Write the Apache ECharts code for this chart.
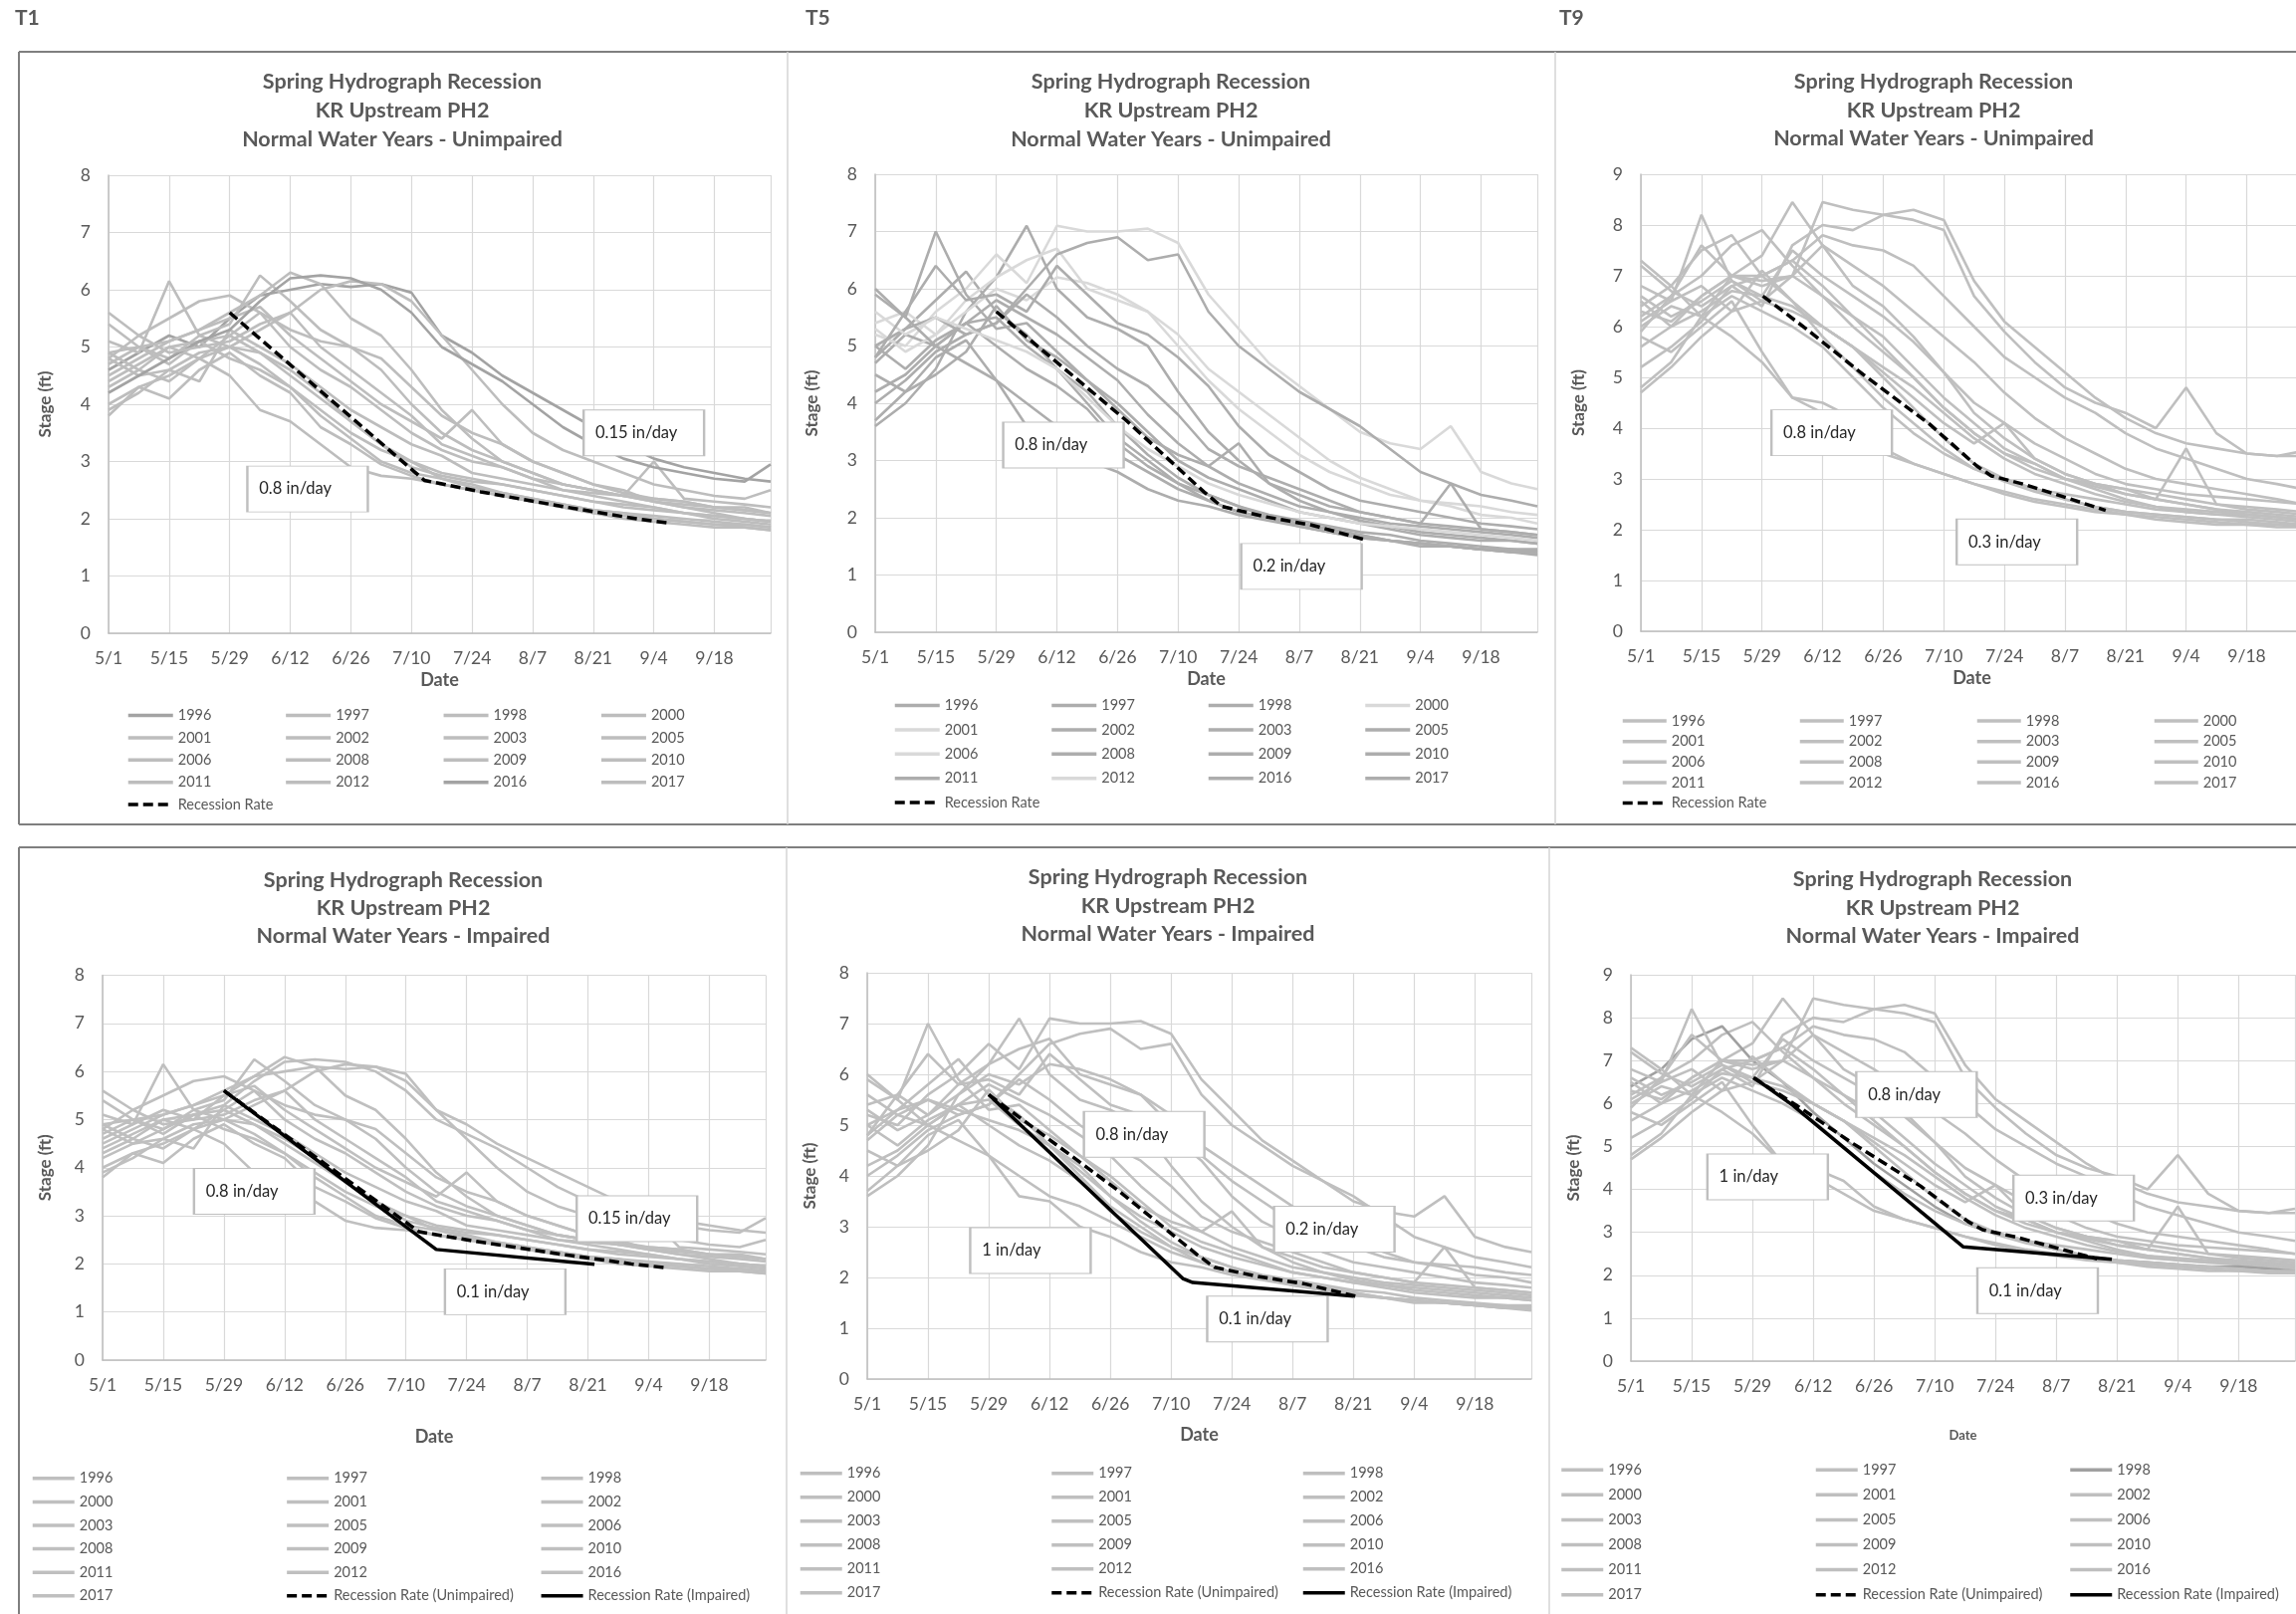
<!DOCTYPE html>
<html><head><meta charset="utf-8">
<script src="https://cdn.jsdelivr.net/npm/echarts@6/dist/echarts.min.js"></script>
<style>html,body{margin:0;padding:0;background:#fff}#c{width:2306px;height:1621px}</style>
</head><body><div id="c"></div>
<script>
// ---------------- DATA ----------------
const days = [0,7,14,21,28,35,42,49,56,63,70,77,84,91,98,105,112,119,126,133,140,147,153];
const dateTicks = ['5/1','5/15','5/29','6/12','6/26','7/10','7/24','8/7','8/21','9/4','9/18'];
const years = ['1996','1997','1998','2000','2001','2002','2003','2005','2006','2008','2009','2010','2011','2012','2016','2017'];

// T1 stage (ft), one row per year, one value per entry of `days`
const T1_stage = [
 [4.6,4.9,5.2,5.0,5.5,5.9,6.0,6.1,6.05,6.1,5.95,5.2,4.9,4.5,4.2,3.9,3.6,3.3,3.05,2.9,2.8,2.7,2.65],
 [4.9,5.0,4.8,5.2,5.4,6.25,5.8,5.3,5.0,4.8,4.3,3.8,3.5,3.3,3.0,2.8,2.6,2.45,2.35,2.3,2.2,2.15,2.1],
 [4.8,4.5,4.6,4.9,5.0,4.7,4.3,3.9,3.5,3.2,3.0,2.7,2.55,2.45,2.35,2.25,2.15,2.1,2.05,2.0,1.95,1.9,1.85],
 [4.9,4.6,5.0,4.8,4.5,3.9,3.7,3.3,2.9,2.75,2.7,2.6,2.5,2.4,2.3,2.2,2.1,2.05,2.0,1.95,1.9,1.85,1.8],
 [3.8,4.3,4.1,4.6,4.9,4.5,4.2,3.6,3.3,2.95,2.75,2.6,2.5,2.4,2.3,2.2,2.1,2.0,1.95,1.9,1.85,1.85,1.8],
 [4.4,4.7,5.0,5.1,4.8,4.6,4.3,3.8,3.4,3.0,2.8,2.7,2.6,2.45,2.35,2.25,2.15,2.1,2.0,1.95,1.9,1.9,1.85],
 [5.1,4.9,6.15,5.2,5.0,4.9,4.6,4.2,3.7,3.3,3.0,2.8,2.7,2.6,2.5,2.4,2.3,2.25,2.2,2.1,2.05,2.0,1.95],
 [4.8,5.2,5.5,5.8,5.9,5.6,5.3,5.1,5.0,4.6,4.0,3.5,3.2,3.0,2.8,2.6,2.5,2.4,2.3,2.25,2.2,2.15,2.1],
 [4.5,4.8,5.1,5.3,5.6,5.9,6.3,6.1,5.5,5.2,4.6,3.9,3.4,3.0,2.8,2.6,2.5,2.4,2.3,2.2,2.15,2.1,2.05],
 [4.3,4.6,4.4,4.8,5.2,4.9,4.5,4.1,3.7,3.3,2.9,2.75,2.65,2.6,2.5,2.4,2.3,2.2,2.15,2.1,2.05,2.0,1.95],
 [3.9,4.2,4.6,4.4,5.3,5.0,4.7,4.3,3.9,3.6,3.3,3.1,2.8,2.7,2.6,2.5,2.45,2.4,3.0,2.35,2.3,2.25,2.2],
 [4.7,5.0,5.1,5.3,5.5,5.7,5.2,4.8,4.4,4.0,3.7,3.4,3.9,3.3,3.0,2.8,2.6,2.5,2.3,2.2,2.1,2.0,1.95],
 [4.0,4.3,4.5,4.8,5.0,5.3,5.6,6.0,6.15,6.1,5.8,5.2,4.6,4.0,3.5,3.2,3.0,2.8,2.6,2.5,2.4,2.35,2.5],
 [5.4,5.0,4.7,5.1,5.2,5.6,5.0,4.6,4.3,3.9,3.5,3.2,3.0,2.9,2.7,2.6,2.5,2.4,2.35,2.3,2.2,2.2,2.1],
 [4.2,4.5,4.8,5.1,5.3,5.8,6.2,6.25,6.2,6.0,5.6,5.0,4.7,4.4,4.0,3.6,3.3,3.05,2.9,2.8,2.7,2.65,2.95],
 [5.6,5.2,4.9,5.0,5.1,5.4,5.6,5.0,4.6,4.2,3.8,3.3,3.1,2.9,2.7,2.5,2.4,2.3,2.2,2.1,2.0,1.95,1.9]
];
const T5_stage = [
 [5.0,4.6,5.1,5.4,5.5,5.0,4.6,4.2,3.6,3.1,2.7,2.4,2.2,2.0,1.9,1.8,1.7,1.6,1.55,1.5,1.45,1.45,1.4],
 [3.6,4.0,4.6,5.6,6.2,7.1,6.0,5.5,5.3,5.0,4.2,3.5,3.0,2.6,2.3,2.1,1.95,1.85,1.75,1.7,1.65,1.6,1.55],
 [4.8,5.3,5.8,6.3,5.6,5.2,4.6,4.0,3.4,3.0,2.6,2.3,2.1,2.0,1.85,1.75,1.65,1.6,1.5,1.5,1.45,1.4,1.4],
 [5.2,5.0,5.6,6.0,6.6,6.1,7.1,7.0,7.0,7.05,6.8,5.9,5.3,4.7,4.3,3.9,3.5,3.3,3.2,3.6,2.8,2.6,2.5],
 [5.4,5.6,5.2,5.8,6.2,6.5,6.7,6.0,5.8,5.6,5.2,4.6,4.2,3.8,3.4,3.0,2.7,2.5,2.3,2.2,2.05,2.0,1.9],
 [4.7,5.2,5.0,5.4,5.0,4.6,4.3,3.9,3.3,2.9,2.6,2.4,2.2,2.05,1.95,1.85,1.75,1.7,1.6,1.55,1.5,1.45,1.45],
 [5.9,5.5,7.0,5.9,5.3,5.4,4.9,4.4,4.0,3.5,3.0,2.7,2.5,2.3,2.1,2.0,1.9,1.8,1.7,1.65,1.6,1.6,1.55],
 [4.2,4.5,5.0,5.4,5.8,5.5,5.2,4.8,4.4,3.8,3.3,2.9,2.6,2.4,2.2,2.1,2.0,1.9,1.85,1.8,1.75,1.7,1.65],
 [5.3,4.9,5.2,5.6,6.0,5.8,6.2,6.1,5.9,5.6,5.0,4.4,3.9,3.5,3.1,2.8,2.6,2.4,2.3,2.25,2.2,2.1,2.05],
 [4.5,4.2,4.8,5.1,4.4,3.6,3.5,3.0,2.8,2.5,2.3,2.2,2.05,1.95,1.85,1.75,1.65,1.6,1.55,1.5,1.45,1.4,1.4],
 [3.7,4.2,4.5,4.9,5.7,5.1,4.8,4.4,3.9,3.4,3.1,2.9,3.3,2.6,2.4,2.2,2.1,2.0,1.9,2.6,1.8,1.75,1.7],
 [5.0,5.3,5.5,5.2,5.4,5.9,5.5,5.0,4.6,4.3,3.8,3.2,2.9,2.7,2.5,2.3,2.1,2.0,1.9,1.85,1.8,1.75,1.7],
 [4.0,4.4,4.9,5.2,5.4,6.0,6.6,6.8,6.9,6.5,6.6,5.6,5.0,4.6,4.2,3.9,3.6,3.2,2.8,2.6,2.4,2.3,2.2],
 [5.6,5.2,5.5,5.3,5.1,4.9,4.6,4.1,3.6,3.2,2.9,2.6,2.4,2.25,2.1,2.0,1.9,1.85,1.8,1.75,1.7,1.65,1.6],
 [4.8,5.6,6.4,5.8,5.9,5.6,6.4,5.9,5.4,5.2,4.8,4.3,3.6,3.1,2.8,2.5,2.3,2.2,2.1,2.0,1.9,1.85,1.8],
 [6.0,5.5,5.0,4.7,4.4,4.0,3.6,3.4,3.1,2.8,2.5,2.3,2.1,2.0,1.9,1.8,1.7,1.6,1.55,1.5,1.45,1.4,1.35]
];
const T9_stage = [
 [6.2,6.6,7.0,7.6,7.9,7.2,6.6,6.0,5.5,5.0,4.4,3.9,3.5,3.2,3.0,2.8,2.6,2.45,2.35,2.3,2.25,2.2,2.15],
 [4.8,5.3,6.2,7.0,7.4,8.45,7.6,6.8,6.4,5.8,5.1,4.3,3.8,3.4,3.1,2.9,2.7,2.6,2.5,2.4,2.3,2.25,2.2],
 [6.4,6.8,7.5,7.8,7.0,6.5,5.8,5.2,4.6,4.1,3.6,3.2,3.0,2.8,2.6,2.45,2.35,2.3,2.25,2.2,2.2,2.15,2.1],
 [6.3,6.1,6.6,7.0,6.8,7.0,8.45,8.3,8.2,8.3,8.1,6.9,6.1,5.6,5.1,4.6,4.2,3.9,3.7,3.6,3.5,3.45,3.55],
 [7.2,6.7,6.4,6.8,7.0,7.3,7.8,7.6,7.5,7.2,6.6,6.0,5.4,5.0,4.6,4.3,3.9,3.6,3.4,3.2,3.0,2.9,2.8],
 [6.0,6.4,6.2,6.6,6.3,6.0,5.6,5.0,4.4,3.9,3.5,3.2,2.95,2.75,2.6,2.45,2.35,2.3,2.25,2.2,2.15,2.1,2.1],
 [6.8,6.5,8.2,6.9,6.6,6.4,6.0,5.6,5.0,4.4,3.8,3.3,3.0,2.8,2.7,2.6,2.5,2.4,2.35,2.3,2.3,2.25,2.2],
 [5.6,6.0,6.6,7.0,7.0,7.3,6.8,6.2,5.6,5.0,4.4,3.9,3.5,3.3,3.0,2.9,2.8,2.7,2.6,2.5,2.45,2.4,2.35],
 [6.5,6.0,6.3,6.7,6.6,7.5,7.0,6.6,6.2,5.7,5.1,4.5,4.1,3.7,3.4,3.1,2.9,2.8,2.7,2.65,2.6,2.55,2.5],
 [5.8,5.5,6.0,6.5,5.5,4.6,4.5,4.2,3.6,3.3,3.1,2.9,2.7,2.55,2.45,2.35,2.3,2.2,2.15,2.1,2.1,2.05,2.05],
 [4.7,5.2,5.8,6.3,7.1,6.5,6.0,5.6,5.1,4.6,4.1,3.7,4.1,3.4,3.1,2.9,2.8,2.6,3.6,2.5,2.4,2.35,2.3],
 [6.1,6.5,6.8,6.3,6.5,7.0,6.6,6.2,5.8,5.2,4.6,4.1,3.6,3.3,3.0,2.85,2.7,2.6,2.5,2.4,2.35,2.3,2.25],
 [5.2,5.6,6.1,6.8,6.4,7.6,8.0,7.9,8.2,8.1,7.9,6.6,5.9,5.3,4.8,4.5,4.3,4.0,4.8,3.9,3.5,3.45,3.45],
 [6.6,6.2,6.5,6.9,6.5,6.3,6.0,5.6,5.2,4.8,4.3,3.8,3.4,3.1,2.9,2.7,2.55,2.45,2.4,2.35,2.3,2.25,2.2],
 [5.9,6.6,7.6,7.0,6.9,7.0,7.6,7.2,6.8,6.3,5.8,5.3,4.7,4.2,3.8,3.5,3.2,3.0,2.9,2.8,2.7,2.6,2.5],
 [7.3,6.8,6.2,5.8,5.3,4.6,4.3,3.9,3.5,3.3,3.1,2.9,2.75,2.6,2.5,2.4,2.3,2.25,2.2,2.15,2.1,2.1,2.05]
];

// recession rate lines [day, stage]
const T1_recUnimp = [[28,5.6],[73,2.67],[86,2.47],[106,2.2],[122,2.0],[130,1.92]];
const T1_recImp   = [[28,5.6],[77,2.3],[113.5,1.99]];
const T5_recUnimp = [[28,5.6],[58,3.7],[76,2.45],[80,2.2],[90,2.02],[101,1.87],[113,1.62]];
const T5_recImp   = [[28,5.6],[72.7,1.98],[75,1.9],[100,1.72],[112,1.63]];
const T9_recUnimp = [[28.2,6.6],[38,5.97],[51.3,5.06],[66.7,4.08],[77.7,3.25],[81,3.06],[88.7,2.89],[99.8,2.59],[107.4,2.38]];
const T9_recImp   = [[28.4,6.6],[37.3,5.96],[76.6,2.66],[110.8,2.37]];

// rate annotation texts
const T1U_rates = ['0.8 in/day','0.15 in/day'];
const T5U_rates = ['0.8 in/day','0.2 in/day'];
const T9U_rates = ['0.8 in/day','0.3 in/day'];
const T1I_rates = ['0.8 in/day','0.15 in/day','0.1 in/day'];
const T5I_rates = ['0.8 in/day','1 in/day','0.2 in/day','0.1 in/day'];
const T9I_rates = ['0.8 in/day','1 in/day','0.3 in/day','0.1 in/day'];

// ---------------- LAYOUT ----------------
const FONT = 'Lato, "Open Sans", sans-serif';
const TXT = '#595959';
const panels = [
 {key:'T1U', stage:T1_stage, ymax:8, sub:'Unimpaired', impaired:false, rec:[T1_recUnimp], rates:T1U_rates,
  anchors:[[46,2.52],[123.7,3.5]],
  grid:{left:109,top:176,width:665,height:460}, tx:404, ty:68, lh:29, dateGap:38, dateSize:18, stageGap:55,
  leg:{cols:4,x0:127,dx:158.4,y0:718,dy:22.4,iw:45},
  colors:(y)=> (y==='1996'||y==='2016') ? '#a3a3a3' : '#bdbdbd'},
 {key:'T5U', stage:T5_stage, ymax:8, sub:'Unimpaired', impaired:false, rec:[T5_recUnimp], rates:T5U_rates,
  anchors:[[43.5,3.27],[98.5,1.15]],
  grid:{left:879,top:175,width:665,height:460}, tx:1176, ty:68, lh:29, dateGap:38, dateSize:18, stageGap:55,
  leg:{cols:4,x0:897,dx:157.5,y0:708,dy:24.4,iw:45},
  colors:(y)=> (['2000','2001','2006','2012'].includes(y)) ? '#d9d9d9' : '#adadad'},
 {key:'T9U', stage:T9_stage, ymax:9, sub:'Unimpaired', impaired:false, rec:[T9_recUnimp], rates:T9U_rates,
  anchors:[[44.1,3.91],[86.9,1.76]],
  grid:{left:1648,top:175,width:665,height:459}, tx:1942, ty:68, lh:28.5, dateGap:38, dateSize:18, stageGap:54,
  leg:{cols:4,x0:1628,dx:178,y0:723.6,dy:20.6,iw:44},
  colors:(y)=> '#bfbfbf'},
 {key:'T1I', stage:T1_stage, ymax:8, sub:'Impaired', impaired:true, rec:[T1_recUnimp,T1_recImp], rates:T1I_rates,
  anchors:[[35,3.51],[123.3,2.94],[92.9,1.42]],
  grid:{left:103,top:979.5,width:666,height:386.5}, tx:405, ty:870, lh:28, dateGap:68, dateSize:18, stageGap:49,
  leg:{cols:3,x0:31,dx:255.4,y0:1484.3,dy:23.6,iw:42},
  colors:(y)=> '#bfbfbf'},
 {key:'T5I', stage:T5_stage, ymax:8, sub:'Impaired', impaired:true, rec:[T5_recUnimp,T5_recImp], rates:T5I_rates,
  anchors:[[63.8,4.82],[37.6,2.53],[107.6,2.95],[92.2,1.18]],
  grid:{left:871,top:977,width:667,height:408}, tx:1173, ty:867, lh:28.5, dateGap:47, dateSize:18, stageGap:49,
  leg:{cols:3,x0:802,dx:252.5,y0:1479.3,dy:24,iw:42},
  colors:(y)=> '#bfbfbf'},
 {key:'T9I', stage:T9_stage, ymax:9, sub:'Impaired', impaired:true, rec:[T9_recUnimp,T9_recImp], rates:T9I_rates,
  anchors:[[65.8,6.21],[31.5,4.29],[102,3.8],[93.7,1.64]],
  grid:{left:1638,top:979,width:667,height:388}, tx:1941, ty:869, lh:28.5, dateGap:68, dateSize:13, stageGap:49,
  leg:{cols:3,x0:1566.5,dx:255.5,y0:1475.7,dy:25.1,iw:42},
  colors:(y)=> y==='1998' ? '#a0a0a0' : '#bfbfbf'}
];

const grids=[], xAxes=[], yAxes=[], series=[], titles=[], legends=[];
['T1','T5','T9'].forEach((t,i)=>titles.push({text:t, left:[15,809,1566][i], top:8, padding:0,
  textStyle:{fontFamily:FONT,fontSize:21,fontWeight:'bold',color:TXT}}));

panels.forEach((p,k)=>{
  grids.push(Object.assign({outerBoundsMode:'none', containLabel:false}, p.grid));
  xAxes.push({type:'value', gridIndex:k, min:0, max:153, interval:14,
    name:'Date', nameLocation:'middle', nameGap:p.dateGap,
    nameTextStyle:{fontFamily:FONT,fontSize:p.dateSize,fontWeight:'bold',color:TXT},
    axisLine:{show:true,lineStyle:{color:'#bfbfbf',width:1.5}}, axisTick:{show:false},
    splitLine:{show:true,lineStyle:{color:'#d9d9d9',width:1.2}},
    axisLabel:{showMaxLabel:false, margin:16, fontFamily:FONT, fontSize:17.5, color:TXT,
      formatter:v=>{const i=Math.round(v/14); return (v%14===0 && i<dateTicks.length)?dateTicks[i]:'';}}});
  yAxes.push({type:'value', gridIndex:k, min:0, max:p.ymax, interval:1,
    name:'Stage (ft)', nameLocation:'middle', nameGap:p.stageGap,
    nameTextStyle:{fontFamily:FONT,fontSize:17,fontWeight:'bold',color:TXT},
    axisLine:{show:true,lineStyle:{color:'#bfbfbf',width:1.5}}, axisTick:{show:false},
    splitLine:{show:true,lineStyle:{color:'#d9d9d9',width:1.2}},
    axisLabel:{margin:18, fontFamily:FONT, fontSize:17.5, color:TXT}});
  titles.push({text:'Spring Hydrograph Recession\nKR Upstream PH2\nNormal Water Years - '+p.sub,
    left:p.tx, top:p.ty, textAlign:'center', padding:0,
    textStyle:{fontFamily:FONT,fontSize:21.5,fontWeight:'bold',color:TXT,lineHeight:p.lh}});

  const names=[];
  years.forEach((y,i)=>{
    const c=p.colors(y);
    const nm=p.key+'|'+y; names.push(nm);
    series.push({type:'line', name:nm, xAxisIndex:k, yAxisIndex:k, symbol:'none', silent:true,
      data:days.map((d,j)=>[d,p.stage[i][j]]), lineStyle:{color:c,width:2.6}, itemStyle:{color:c}, z:2});
  });
  const boxes = {symbol:'rect', symbolSize:[121,46], silent:true,
    itemStyle:{color:'#ffffff', borderColor:'#bfbfbf', borderWidth:1.5},
    label:{show:true, position:'insideLeft', distance:13, color:'#262626', fontFamily:FONT, fontSize:16.5, formatter:'{b}'},
    data:p.rates.map((t,i)=>({name:t, coord:p.anchors[i]}))};
  if(!p.impaired){
    const nm=p.key+'|Recession Rate'; names.push(nm);
    series.push({type:'line', name:nm, xAxisIndex:k, yAxisIndex:k, symbol:'none', data:p.rec[0],
      lineStyle:{color:'#000',width:3.5,type:[10,5]}, itemStyle:{color:'#000'}, z:5, markPoint:boxes});
  } else {
    const n1=p.key+'|Recession Rate (Unimpaired)', n2=p.key+'|Recession Rate (Impaired)';
    names.push(n1,n2);
    series.push({type:'line', name:n1, xAxisIndex:k, yAxisIndex:k, symbol:'none', data:p.rec[0],
      lineStyle:{color:'#000',width:3.5,type:[10,5]}, itemStyle:{color:'#000'}, z:5});
    series.push({type:'line', name:n2, xAxisIndex:k, yAxisIndex:k, symbol:'none', data:p.rec[1],
      lineStyle:{color:'#000',width:3.5}, itemStyle:{color:'#000'}, z:6, markPoint:boxes});
  }
  const L=p.leg;
  names.forEach((nm,i)=>{
    const r=Math.floor(i/L.cols), c=i%L.cols;
    legends.push({left:L.x0+c*L.dx, top:L.y0+r*L.dy-7, padding:0, itemWidth:L.iw, itemHeight:14, itemGap:0,
      selectedMode:false, data:[nm], formatter:n=>n.split('|')[1],
      itemStyle:{opacity:0}, lineStyle:{width:3.5},
      textStyle:{fontFamily:FONT,fontSize:14.5,color:TXT,lineHeight:14}});
  });
});

const dark='#7f7f7f', light='#d4d4d4';
const ln=(x1,y1,x2,y2,c,w)=>({type:'line',silent:true,shape:{x1,y1,x2,y2},style:{stroke:c,lineWidth:w}});
const graphics=[
  ln(19,52,2306,52,dark,2), ln(19,828,2306,828,dark,2), ln(19,52,19,828,dark,2),
  ln(791,52,791,828,light,1.5), ln(1562,52,1562,828,light,1.5),
  ln(19,851,2306,851,dark,2), ln(19,851,19,1621,dark,2),
  ln(790,851,790,1621,light,1.5), ln(1556,851,1556,1621,light,1.5)
];

const chart=echarts.init(document.getElementById('c'),null,{renderer:'canvas'});
chart.setOption({animation:false, backgroundColor:'#ffffff', title:titles, grid:grids, xAxis:xAxes, yAxis:yAxes,
  legend:legends, series:series, graphic:graphics});
</script></body></html>
